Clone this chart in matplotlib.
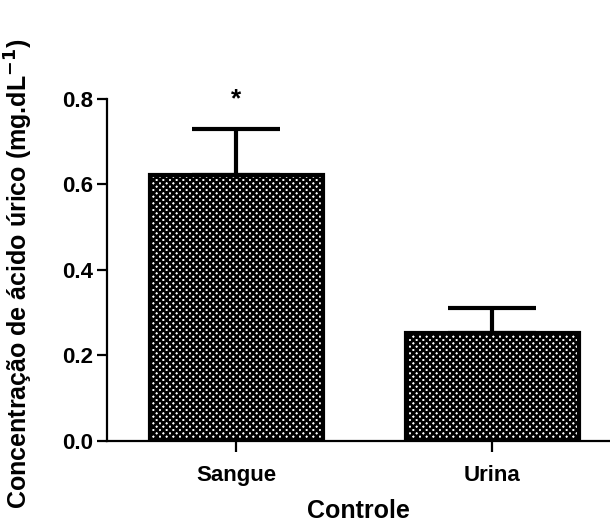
import numpy as np
import matplotlib
matplotlib.use('Agg')
import matplotlib.pyplot as plt

groups = ['Sangue', 'Urina']
means = [0.622, 0.253]
errors = [0.108, 0.058]
yticks = [0.0, 0.2, 0.4, 0.6, 0.8]

plt.rcParams['font.family'] = ['Liberation Sans', 'DejaVu Sans']
plt.rcParams['font.weight'] = 'bold'
plt.rcParams['hatch.linewidth'] = 1.9
plt.rcParams['hatch.color'] = 'black'

fig = plt.figure(figsize=(6.1, 5.24), dpi=100)
ax = fig.add_axes([0.1754, 0.1584, 0.8246, 0.6527])

x = np.arange(len(groups))
width = 0.676

ax.bar(x, means, width, color='white', edgecolor='black', linewidth=3,
       hatch='xxxxx', zorder=2)
ax.errorbar(x, means, yerr=[[0] * len(means), errors], fmt='none',
            ecolor='black', elinewidth=3, capsize=32, capthick=3, zorder=3)

# significance mark over Sangue
ax.text(x[0], means[0] + errors[0] + 0.07, '*', ha='center', va='center',
        fontsize=19, fontweight='bold', clip_on=False)

ax.set_xlim(-0.504, 1.46)
ax.set_ylim(0, 0.8)
ax.set_yticks(yticks)
ax.set_yticklabels([f'{v:.1f}' for v in yticks], fontsize=16, fontweight='bold')
ax.set_xticks(x)
ax.set_xticklabels(groups, fontsize=16, fontweight='bold')

ax.spines['top'].set_visible(False)
ax.spines['right'].set_visible(False)
ax.spines['left'].set_linewidth(1.6)
ax.spines['bottom'].set_linewidth(1.6)
ax.tick_params(axis='y', length=7, width=1.6, direction='out', pad=3)
ax.tick_params(axis='x', length=8, width=1.6, direction='out', pad=9)

ax.set_xlabel('Controle', fontsize=18, fontweight='bold', labelpad=10)
ax.set_ylabel('Concentração de ácido úrico (mg.dL$^{\\mathbf{-1}}$)',
              fontsize=18, fontweight='bold')
ax.yaxis.set_label_coords(-0.143, 0.49)

fig.savefig('out.png', dpi=100)
